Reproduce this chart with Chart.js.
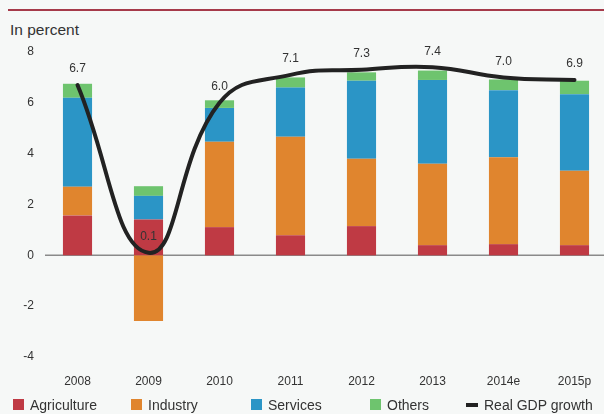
<!DOCTYPE html>
<html>
<head>
<meta charset="utf-8">
<script src="https://cdn.jsdelivr.net/npm/chart.js@4"></script>
<style>
  html, body { margin: 0; padding: 0; background: #f6f8f7; width: 604px; height: 414px; overflow: hidden; }
  #wrap { position: relative; width: 604px; height: 414px; overflow: hidden; font-family: "Liberation Sans Narrow", "Liberation Sans", Arial, sans-serif; color: #333; }
  #rule { position: absolute; left: 8px; top: 9px; width: 596px; height: 2px; background: #a63a4a; }
  #title { position: absolute; left: 10px; top: 21px; font-family: "Liberation Sans", Arial, sans-serif; font-size: 15.5px; color: #333; }
  #cv { position: absolute; left: 0; top: 0; }
  .lg { position: absolute; top: 397px; font-size: 14px; line-height: 16px; color: #333; white-space: nowrap; }
  .sw { position: absolute; top: 2px; width: 11px; height: 11px; }
  .dash { position: absolute; top: 6px; width: 12px; height: 4px; background: #222; }
</style>
</head>
<body>
<div id="wrap">
  <div id="rule"></div>
  <div id="title">In percent</div>
  <canvas id="cv" width="610" height="414"></canvas>
  <div id="legend"></div>
</div>
<script>
const categories = ["2008", "2009", "2010", "2011", "2012", "2013", "2014e", "2015p"];
const agriculture = [1.57, 1.41, 1.11, 0.79, 1.15, 0.40, 0.44, 0.40];
const industry    = [1.13, -2.58, 3.36, 3.88, 2.65, 3.20, 3.42, 2.93];
const services    = [3.50, 0.93, 1.33, 1.93, 3.07, 3.30, 2.64, 3.01];
const others      = [0.55, 0.38, 0.30, 0.40, 0.33, 0.37, 0.42, 0.53];
const gdpGrowth   = [6.7, 0.1, 6.0, 7.1, 7.3, 7.4, 7.0, 6.9];
const gdpLabels   = ["6.7", "0.1", "6.0", "7.1", "7.3", "7.4", "7.0", "6.9"];
const yTicks      = [8, 6, 4, 2, 0, -2, -4];

const colors = {
  agriculture: "#bf3a44",
  industry: "#e0852e",
  services: "#2b95c6",
  others: "#6ec46e",
  gdp: "#222222"
};
const FONT = "'Liberation Sans Narrow', 'Liberation Sans', Arial, sans-serif";

const gdpLabelPlugin = {
  id: "gdpLabels",
  afterDatasetsDraw(chart) {
    const meta = chart.getDatasetMeta(4);
    const ctx = chart.ctx;
    ctx.save();
    ctx.font = "12px " + FONT;
    ctx.fillStyle = "#333";
    ctx.textAlign = "center";
    ctx.textBaseline = "middle";
    meta.data.forEach((pt, i) => {
      ctx.fillText(gdpLabels[i], pt.x, pt.y - 16);
    });
    ctx.restore();
  }
};

const zeroLinePlugin = {
  id: "zeroLine",
  beforeDatasetsDraw(chart) {
    const y = chart.scales.y.getPixelForValue(0);
    const ctx = chart.ctx;
    ctx.save();
    ctx.strokeStyle = "#8a8a8a";
    ctx.lineWidth = 1.5;
    ctx.beginPath();
    ctx.moveTo(45, y);
    ctx.lineTo(chart.width, y);
    ctx.stroke();
    ctx.restore();
  }
};

const barCommon = { stack: "gdp-parts", categoryPercentage: 1, barPercentage: 0.41, borderWidth: 0, order: 2 };

new Chart(document.getElementById("cv"), {
  type: "bar",
  data: {
    labels: categories,
    datasets: [
      Object.assign({ label: "Agriculture", data: agriculture, backgroundColor: colors.agriculture }, barCommon),
      Object.assign({ label: "Industry", data: industry, backgroundColor: colors.industry }, barCommon),
      Object.assign({ label: "Services", data: services, backgroundColor: colors.services }, barCommon),
      Object.assign({ label: "Others", data: others, backgroundColor: colors.others }, barCommon),
      {
        type: "line", label: "Real GDP growth", data: gdpGrowth, stack: "line",
        borderColor: colors.gdp, borderWidth: 4, tension: 0.45, pointRadius: 0,
        fill: false, order: 1, borderCapStyle: "round"
      }
    ]
  },
  options: {
    responsive: false,
    animation: false,
    layout: { padding: { top: 52, left: 0, right: 0, bottom: 24 } },
    plugins: { legend: { display: false }, tooltip: { enabled: false } },
    scales: {
      x: {
        stacked: true,
        grid: { display: false, drawTicks: false },
        border: { display: false },
        ticks: { color: "#333", font: { family: FONT, size: 12 }, padding: 17 },
        afterFit(scale) { scale.height = 33; }
      },
      y: {
        stacked: true,
        min: -4, max: 8,
        grid: { display: false, drawTicks: false },
        border: { display: false },
        afterBuildTicks(scale) { scale.ticks = yTicks.map(v => ({ value: v })); },
        ticks: { color: "#333", font: { family: FONT, size: 12 }, padding: 8 },
        afterFit(scale) { scale.width = 42; }
      }
    }
  },
  plugins: [zeroLinePlugin, gdpLabelPlugin]
});

// HTML legend
const legendItems = [
  { label: "Agriculture", color: colors.agriculture, x: 13 },
  { label: "Industry", color: colors.industry, x: 131 },
  { label: "Services", color: colors.services, x: 251 },
  { label: "Others", color: colors.others, x: 370 },
  { label: "Real GDP growth", color: colors.gdp, x: 466, line: true }
];
const lg = document.getElementById("legend");
legendItems.forEach(it => {
  const d = document.createElement("div");
  d.className = "lg";
  d.style.left = it.x + "px";
  const m = document.createElement("span");
  m.className = it.line ? "dash" : "sw";
  m.style.left = "0px";
  m.style.background = it.color;
  const t = document.createElement("span");
  t.style.marginLeft = it.line ? "18px" : "17px";
  t.textContent = it.label;
  d.appendChild(m);
  d.appendChild(t);
  lg.appendChild(d);
});
</script>
</body>
</html>
